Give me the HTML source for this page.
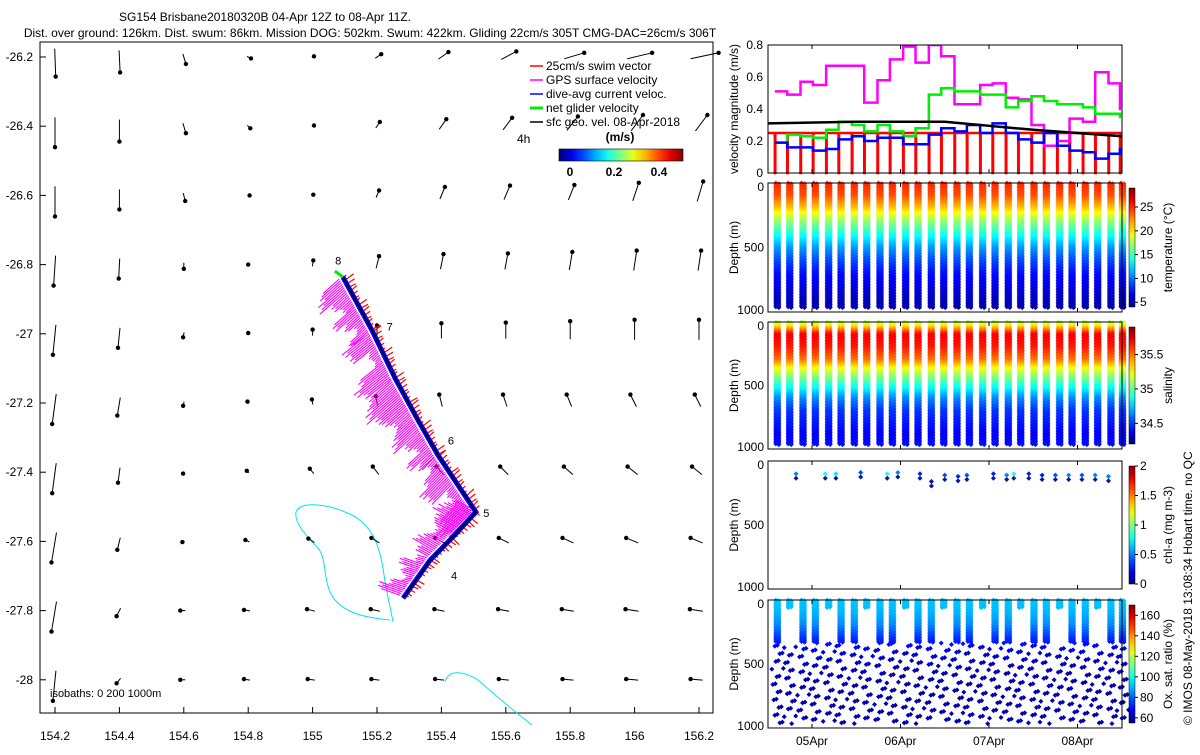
<!DOCTYPE html>
<html><head><meta charset="utf-8">
<style>
body{margin:0;background:#fff;font-family:"Liberation Sans",sans-serif;}
svg text{font-family:"Liberation Sans",sans-serif;}
</style></head>
<body>
<svg id="fig" width="1200" height="750" viewBox="0 0 1200 750" xmlns="http://www.w3.org/2000/svg">
<text x="265" y="21" font-size="12" text-anchor="middle">SG154 Brisbane20180320B 04-Apr 12Z to 08-Apr 11Z.</text>
<text x="370" y="37" font-size="12" text-anchor="middle">Dist. over ground: 126km. Dist. swum: 86km. Mission DOG: 502km. Swum: 422km. Gliding 22cm/s 305T CMG-DAC=26cm/s 306T</text>
<g id="map"></g>
<g id="right"></g>
<text transform="translate(1192,725) rotate(-90)" font-size="12">© IMOS 08-May-2018 13:08:34 Hobart time. no QC</text>
</svg>
<script>
const NS="http://www.w3.org/2000/svg";
function mk(p,tag,at){const e=document.createElementNS(NS,tag);for(const k in at)e.setAttribute(k,at[k]);p.appendChild(e);return e;}
function jet(v){v=Math.max(0,Math.min(1,v));const r=Math.max(0,Math.min(1,1.5-Math.abs(4*v-3))),g=Math.max(0,Math.min(1,1.5-Math.abs(4*v-2))),b=Math.max(0,Math.min(1,1.5-Math.abs(4*v-1)));return `rgb(${Math.round(r*255)},${Math.round(g*255)},${Math.round(b*255)})`;}

// ---------- MAP DATA ----------
const lonTicks=[154.2,154.4,154.6,154.8,155,155.2,155.4,155.6,155.8,156,156.2];
const latTicks=[-26.2,-26.4,-26.6,-26.8,-27,-27.2,-27.4,-27.6,-27.8,-28];
const trackLon=[155.094,155.184,155.256,155.327,155.389,155.507,155.442,155.365,155.281];
const trackLat=[-26.836,-26.989,-27.128,-27.249,-27.350,-27.515,-27.581,-27.654,-27.764];
const dayLabels=["8","7","6","5","4"];
const dayLon=[155.07,155.23,155.42,155.53,155.43];
const dayLat=[-26.8,-26.99,-27.32,-27.53,-27.71];
// surface current u,v (m/s) rows = latTicks, cols = lonTicks
const curU=[
[0.01,0.01,0.03,0.04,0.02,0.06,0.1,0.15,0.2,0.25,0.28],
[0,0,0.03,0.03,0.02,0.04,0.07,0.09,0.11,0.12,0.12],
[0,0,0.02,0.02,0.01,0.03,0.05,0.06,0.06,0.06,0.06],
[-0.02,-0.01,0,0,0.01,0.03,0.03,0.03,0.03,0.03,0.03],
[-0.03,-0.02,-0.01,0,0,0,0,0,0,0,0],
[-0.04,-0.03,-0.01,-0.01,-0.01,-0.02,-0.03,-0.04,-0.05,-0.06,-0.06],
[-0.04,-0.02,-0.01,-0.02,-0.04,-0.06,-0.07,-0.08,-0.09,-0.1,-0.1],
[-0.05,-0.03,-0.02,-0.04,-0.06,-0.08,-0.09,-0.1,-0.11,-0.12,-0.12],
[-0.05,-0.04,-0.05,-0.06,-0.08,-0.09,-0.1,-0.11,-0.12,-0.13,-0.13],
[-0.03,-0.04,-0.05,-0.06,-0.07,-0.08,-0.09,-0.1,-0.11,-0.12,-0.12]];
const curV=[
[-0.28,-0.22,-0.1,-0.02,0.01,0.04,0.07,0.08,0.06,0.06,0.06],
[-0.3,-0.22,-0.1,-0.03,0.01,0.06,0.1,0.12,0.14,0.16,0.16],
[-0.3,-0.2,-0.08,0,0.01,0.07,0.12,0.14,0.15,0.18,0.2],
[-0.3,-0.2,-0.06,0,0.06,0.12,0.15,0.16,0.18,0.2,0.2],
[-0.3,-0.2,-0.05,0.01,0.06,0.12,0.15,0.16,0.18,0.2,0.2],
[-0.3,-0.18,-0.04,0.02,0.05,0.1,0.12,0.12,0.12,0.12,0.12],
[-0.3,-0.15,-0.02,0.02,0.05,0.08,0.08,0.08,0.08,0.08,0.08],
[-0.3,-0.12,-0.01,0.02,0.04,0.05,0.05,0.05,0.05,0.05,0.05],
[-0.3,-0.08,0,0.01,0.02,0.02,0.02,0.02,0.02,0.02,0.02],
[-0.3,-0.05,0,0.01,0.01,0.01,0.01,0.01,0.01,0.01,0.01]];
// magenta GPS extent (px) west of track, per sample
const gpsExtent=[28,34,24,16,30,22,14,26,34,30,14,12,34,40,32,36,42,36,30,22];

const mX=lon=>55+(lon-154.2)/0.2*64.4;
const mY=lat=>57+(-26.2-lat)/0.2*69.2;

const map=document.getElementById('map');
let e=mk(map,'rect',{x:40,y:42,width:673,height:671,fill:'none',stroke:'#000','stroke-width':1});

lonTicks.forEach(l=>{const x=mX(l);mk(map,'line',{x1:x,y1:713,x2:x,y2:707,stroke:'#000'});
 const t=mk(map,'text',{x:x,y:740,'font-size':12,'text-anchor':'middle'});t.textContent=String(l);
 });
latTicks.forEach(l=>{const y=mY(l);mk(map,'line',{x1:40,y1:y,x2:46,y2:y,stroke:'#000'});
 const t=mk(map,'text',{x:33,y:y+4,'font-size':12,'text-anchor':'end'});t.textContent=String(l);
 });
// isobath contours
e=mk(map,'path',{d:'M296,512 C300,500 330,505 345,512 C372,522 380,545 384,575 C388,600 392,615 393,622 M296,512 C294,522 305,535 318,548 C328,560 322,585 335,600 C348,615 370,618 390,620',fill:'none',stroke:'#00e5ee','stroke-width':1});

e=mk(map,'path',{d:'M445,682 C448,670 462,670 478,680 C495,695 515,712 532,725',fill:'none',stroke:'#00e5ee','stroke-width':1});

// current arrows
const arrG=mk(map,'g',{});
latTicks.forEach((la,r)=>lonTicks.forEach((lo,c)=>{
 const gx=mX(lo),gy=mY(la),dx=curU[r][c]*100,dy=-curV[r][c]*100;
 const x0=gx-dx*0.3,y0=gy-dy*0.3,x1=gx+dx*0.7,y1=gy+dy*0.7;
 const a=mk(arrG,'line',{x1:x0,y1:y0,x2:x1,y2:y1,stroke:'#000','stroke-width':1});
 
 const h=mk(arrG,'circle',{cx:x1,cy:y1,r:2.2,fill:'#000'});
 
}));
// track
const pts=trackLon.map((l,i)=>[mX(l),mY(trackLat[i])]);
const samp=[];for(let i=0;i<pts.length-1;i++){const L=Math.hypot(pts[i+1][0]-pts[i][0],pts[i+1][1]-pts[i][1]);const st=2/L;for(let s=0;s<1;s+=st)samp.push([pts[i][0]+(pts[i+1][0]-pts[i][0])*s,pts[i][1]+(pts[i+1][1]-pts[i][1])*s,pts[i+1][0]-pts[i][0],pts[i+1][1]-pts[i][1]]);}
const magG=mk(map,'g',{stroke:'#ff00ff','stroke-width':1.1});
const redG=mk(map,'g',{stroke:'#ff0000','stroke-width':1.2});
samp.forEach((p,k)=>{const L=Math.hypot(p[2],p[3]);let nx=p[3]/L,ny=-p[2]/L;
 if(nx>0){nx=-nx;ny=-ny;} // (nx,ny) points west
 const ext=gpsExtent[Math.floor(k/4)%gpsExtent.length]*(0.8+0.2*((k*7)%5)/4);
 mk(magG,'line',{x1:p[0]+nx*4,y1:p[1]+ny*4,x2:p[0]+nx*ext,y2:p[1]+ny*ext+ext*0.25});
 if(k%2==0)mk(redG,'line',{x1:p[0],y1:p[1],x2:p[0]-nx*(4+(k*3)%7),y2:p[1]-ny*(4+(k*3)%7)-(k%3)});
});
let tp=pts.map(p=>p.join(',')).join(' ');
e=mk(map,'polyline',{points:tp,fill:'none',stroke:'#0000ff','stroke-width':5});
e=mk(map,'polyline',{points:tp,fill:'none',stroke:'#000','stroke-width':1.5});
e=mk(map,'line',{x1:pts[0][0],y1:pts[0][1],x2:pts[0][0]-8,y2:pts[0][1]-6,stroke:'#00ee00','stroke-width':3});
dayLabels.forEach((d,i)=>{const t=mk(map,'text',{x:mX(dayLon[i]),y:mY(dayLat[i]),'font-size':11});t.textContent=d;});
// legend
const legG=mk(map,'g',{});
const legTxt=["25cm/s swim vector","GPS surface velocity","dive-avg current veloc.","net glider velocity","sfc geo. vel. 08-Apr-2018"];
const legCol=["#ff0000","#ff00ff","#0000ff","#00ee00","#000"];
legTxt.forEach((s,i)=>{const y=70+i*14;mk(legG,'line',{x1:530,y1:y-4,x2:543,y2:y-4,stroke:legCol[i],'stroke-width':i==3?3:1.5});
 const t=mk(legG,'text',{x:546,y:y,'font-size':12});t.textContent=s;});
e=mk(legG,'text',{x:517,y:143,'font-size':12});e.textContent='4h';
e=mk(legG,'text',{x:620,y:141,'font-size':12,'font-weight':'bold','text-anchor':'middle'});e.textContent='(m/s)';
const defs=mk(document.getElementById('fig'),'defs',{});
function grad(id,vert){const g=mk(defs,'linearGradient',{id:id,x1:0,y1:vert?1:0,x2:vert?0:1,y2:0});for(let i=0;i<=10;i++)mk(g,'stop',{offset:i/10,'stop-color':jet(i/10)});}
grad('gh',false);grad('gv',true);
e=mk(legG,'rect',{x:559,y:149,width:124,height:12,fill:'url(#gh)',stroke:'#000','stroke-width':0.6});
[["0",570],["0.2",614],["0.4",659]].forEach(a=>{const t=mk(legG,'text',{x:a[1],y:176,'font-size':12,'font-weight':'bold','text-anchor':'middle'});t.textContent=a[0];});
e=mk(map,'text',{x:50,y:697,'font-size':11});e.textContent='isobaths: 0   200   1000m';

// ---------- TIME SERIES DATA ----------
const diveT=[4.58,4.72,4.87,5.01,5.16,5.30,5.45,5.59,5.74,5.88,6.03,6.17,6.32,6.46,6.61,6.75,6.90,7.04,7.19,7.33,7.48,7.62,7.77,7.91,8.06,8.20,8.35,8.48];
const gpsVel=[0.51,0.49,0.57,0.55,0.67,0.67,0.67,0.44,0.58,0.71,0.79,0.69,0.80,0.73,0.43,0.43,0.55,0.56,0.47,0.46,0.30,0.17,0.20,0.34,0.32,0.63,0.56,0.40];
const netVel=[0.19,0.24,0.23,0.22,0.27,0.32,0.30,0.26,0.30,0.26,0.23,0.28,0.49,0.53,0.51,0.51,0.49,0.49,0.41,0.45,0.48,0.45,0.43,0.43,0.41,0.37,0.37,0.35];
const dacVel=[0.19,0.16,0.16,0.14,0.15,0.21,0.23,0.20,0.22,0.22,0.18,0.18,0.24,0.28,0.26,0.30,0.25,0.31,0.25,0.21,0.19,0.25,0.17,0.14,0.13,0.09,0.12,0.15];
const swimVel=0.25;
const geoT=[4.5,5.5,6.5,7.5,8.5];const geoVel=[0.31,0.32,0.32,0.27,0.23];
const dayTicks=[5,6,7,8];const dayTickLabels=["05Apr","06Apr","07Apr","08Apr"];
const profDepth=[0,100,200,300,400,500,600,700,800,900,1000];
const tempProf=[25,24,21,17,14,11,9,7.5,6.5,5.5,5];
const salProf=[35.1,35.7,35.65,35.5,35.15,34.9,34.65,34.5,34.45,34.4,34.45];
const oxProf=[92,90,85,75,65,62,60,60,60,61,62];
const chlT=[4.82,5.15,5.27,5.55,5.85,5.97,6.22,6.35,6.50,6.65,6.75,7.05,7.20,7.28,7.45,7.6,7.75,7.9,8.05,8.2,8.35];
const chlVal=[0.5,0.8,0.7,0.4,0.8,0.5,0.3,0.1,0.4,0.3,0.4,0.3,0.5,0.8,0.3,0.3,0.4,0.5,0.4,0.5,0.5];
const chlDepth=[100,100,100,90,100,90,100,160,110,120,110,100,110,100,100,110,110,110,110,110,120];

const X0=768,X1=1122;
const tX=t=>812+(t-5)*88.5;
const R=document.getElementById('right');
function frame(y0,y1,name){const f=mk(R,'rect',{x:X0,y:y0,width:X1-X0,height:y1-y0,fill:'none',stroke:'#000','stroke-width':1});
 dayTicks.forEach(d=>{mk(R,'line',{x1:tX(d),y1:y1,x2:tX(d),y2:y1-4,stroke:'#000'});mk(R,'line',{x1:tX(d),y1:y0,x2:tX(d),y2:y0+4,stroke:'#000'});});}
// panel 1
const vY=v=>173-v/0.8*128;
const p1=mk(R,'g',{});
const redP=[];diveT.forEach((t,i)=>{const x=tX(t);redP.push(`${x},${vY(swimVel)} ${x},${vY(0)} ${x+0.5},${vY(0)} ${x+0.5},${vY(swimVel)}`);});
e=mk(p1,'polyline',{points:`${X0},${vY(swimVel)} `+redP.join(' ')+` ${X1},${vY(swimVel)}`,fill:'none',stroke:'#ff0000','stroke-width':2.5});
const cp=mk(defs,'clipPath',{id:'cp1'});mk(cp,'rect',{x:X0,y:45,width:X1-X0,height:128});
function step(arr,col,name){const p=[];arr.forEach((v,i)=>{const x0=tX(diveT[i]);const x1=i<arr.length-1?tX(diveT[i+1]):X1-1;p.push(`${x0},${vY(v)} ${x1},${vY(v)}`);});
 const l=mk(p1,'polyline',{points:p.join(' '),fill:'none',stroke:col,'stroke-width':2.5,'clip-path':'url(#cp1)'});}
step(gpsVel,'#ff00ff','gps-speed-line');step(netVel,'#00ee00','net-speed-line');step(dacVel,'#0000ff','dac-speed-line');
e=mk(p1,'polyline',{points:geoT.map((t,i)=>`${Math.max(X0,Math.min(X1,tX(t)))},${vY(geoVel[i])}`).join(' '),fill:'none',stroke:'#000','stroke-width':2.5});
frame(45,173,'velocity-frame');
[0,0.2,0.4,0.6,0.8].forEach(v=>{const t=mk(R,'text',{x:X0-5,y:vY(v)+4,'font-size':12,'text-anchor':'end'});t.textContent=String(v);});
e=mk(R,'text',{transform:'translate(738,109) rotate(-90)','font-size':12,'text-anchor':'middle'});e.textContent='velocity magnitude (m/s)';

function interp(prof,d){const i=Math.min(9,Math.floor(d/100));const f=(d-i*100)/100;return prof[i]+(prof[i+1]-prof[i])*f;}
function diamond(g,cx,cy,col){const c=mk(g,'path',{d:`M${cx-2.5},${cy} L${cx},${cy-2.5} L${cx+2.5},${cy} L${cx},${cy+2.5} Z`,fill:col});}
function depthPanel(y0,y1,name,prof,vmin,vmax,cticks,clabel,mode){
 const dY=d=>y0+d/1000*(y1-y0);
 const g=mk(R,'g',{});
 if(mode==='chl'){chlT.forEach((t,i)=>{diamond(g,tX(t),dY(chlDepth[i]),jet((chlVal[i]-vmin)/(vmax-vmin)));diamond(g,tX(t),dY(chlDepth[i]+35),'#0a1a8a');});}
 else diveT.forEach((t,i)=>{[tX(t)+1,tX(t)+4].forEach((x,k)=>{
   for(let d=k*6;d<=970;d+=12){
    let cx=x;
    if(mode==='ox'){
      if(d>330){ if(((d/6)+i*3+k)%5!=0)continue; cx=x+((i*5+d/12)%9)-4; }
      else if(d>60 && (i%3==1) )continue;
    }
    diamond(g,cx,dY(d),jet((interp(prof,d)-vmin)/(vmax-vmin)));}});});
 frame(y0,y1,name+'-frame');
 [0,500,1000].forEach(d=>{const t=mk(R,'text',{x:X0-4,y:dY(d)+(d==0?8:d==1000?2:4),'font-size':12,'text-anchor':'end'});t.textContent=String(d);});
 const a=mk(R,'text',{transform:`translate(738,${(y0+y1)/2}) rotate(-90)`,'font-size':12,'text-anchor':'middle'});a.textContent='Depth (m)';
 const cb=mk(R,'rect',{x:1129,y:y0+5,width:6,height:y1-y0-10,fill:'url(#gv)',stroke:'#000','stroke-width':0.5});
 cticks.forEach(v=>{const y=y1-5-(v-vmin)/(vmax-vmin)*(y1-y0-10);mk(R,'line',{x1:1135,y1:y,x2:1138,y2:y,stroke:'#000'});const t=mk(R,'text',{x:1140,y:y+4,'font-size':12});t.textContent=String(v);});
 const cl=mk(R,'text',{transform:`translate(1172,${(y0+y1)/2}) rotate(-90)`,'font-size':12,'text-anchor':'middle'});cl.textContent=clabel;
}
depthPanel(183,312,'temperature-panel',tempProf,4,29,[5,10,15,20,25],'temperature (°C)','t');
depthPanel(322,449,'salinity-panel',salProf,34.2,35.9,[34.5,35,35.5],'salinity','s');
depthPanel(461,589,'chlorophyll-panel',null,0,2,[0,0.5,1,1.5,2],'chl-a (mg m-3)','chl');
depthPanel(600,728,'oxygen-panel',oxProf,55,170,[60,80,100,120,140,160],'Ox. sat. ratio (%)','ox');
dayTickLabels.forEach((s,i)=>{const t=mk(R,'text',{x:tX(dayTicks[i]),y:745,'font-size':12,'text-anchor':'middle'});t.textContent=s;});
</script>
</body></html>
